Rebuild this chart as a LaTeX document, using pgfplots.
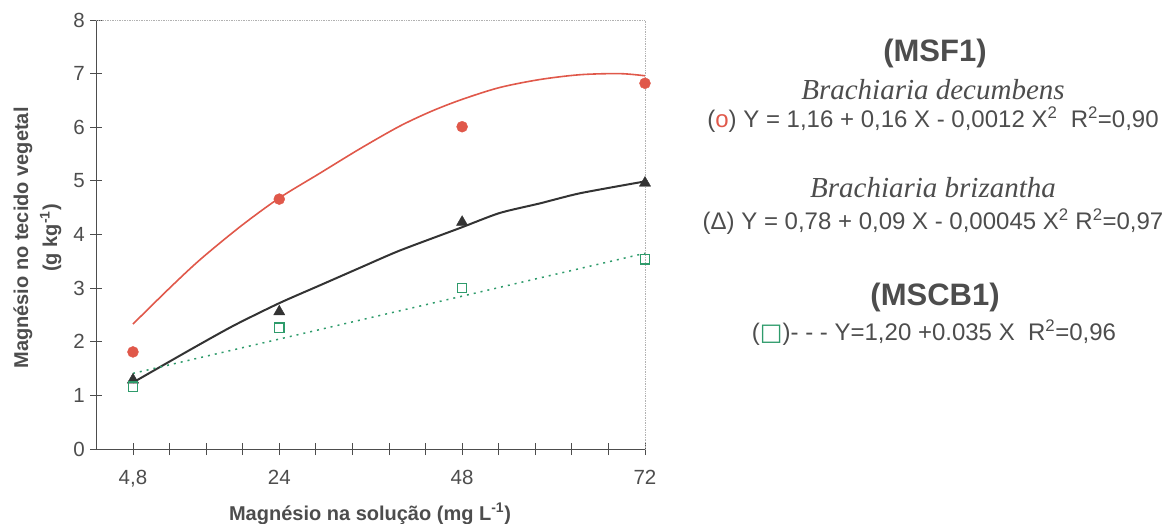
\documentclass[border=0pt]{standalone}
\usepackage{fontspec}
\setmainfont{Liberation Sans}
\newfontfamily\timesfont{Liberation Serif}
\newfontfamily\dejavu{DejaVu Sans}
\usepackage{pgfplots}
\pgfplotsset{compat=1.18}
\definecolor{txt}{HTML}{4D4D4D}
\definecolor{redc}{HTML}{E0584A}
\definecolor{blk}{HTML}{333333}
\definecolor{grn}{HTML}{2E9B6B}
\begin{document}
\begin{tikzpicture}
\useasboundingbox (0,0) rectangle (1170pt,523pt);
\begin{axis}[
  at={(96.4pt,74pt)}, anchor=south west,
  scale only axis, width=548.6pt, height=429pt,
  xmin=0, xmax=72, ymin=0, ymax=8,
  axis lines=left, axis line style={-, draw=txt, line width=1pt},
  tick align=center, major tick length=12pt,
  tick style={draw=txt, line width=0.8pt},
  xtick={4.8,9.6,14.4,19.2,24,28.8,33.6,38.4,43.2,48,52.8,57.6,62.4,67.2,72},
  xticklabels={{4,8},,,,24,,,,,48,,,,,72},
  ytick={0,1,2,3,4,5,6,7,8},
  /pgf/number format/assume math mode=true,
  tick label style={font=\fontsize{20.5}{24}\selectfont, text=txt},
  xticklabel style={yshift=-12pt},
  yticklabel style={xshift=-2pt},
  clip=false,
]
\draw[gray!60, densely dotted, line width=0.7pt] (rel axis cs:0,1) -- (rel axis cs:1,1) -- (rel axis cs:1,0);
% fitted curves
\addplot[redc, line width=1.6pt, smooth] coordinates {
(4.8,2.33) (9.6,3.0) (13.6,3.53) (18.9,4.15) (24,4.68) (29.3,5.14) (34.6,5.6) (39.8,6.02) (44,6.3) (48,6.52) (52.9,6.74) (58.2,6.89) (63.5,6.98) (68.7,7.0) (72,6.96)};
\addplot[blk, line width=2pt, smooth, tension=0.4] coordinates {
(4.8,1.24) (12.3,1.85) (18,2.3) (24,2.72) (29.3,3.05) (34.6,3.38) (39.8,3.7) (47.7,4.12) (52.9,4.40) (58.2,4.58) (63.5,4.77) (72,4.99)};
\addplot[grn, line width=1.5pt, dash pattern=on 2pt off 5pt] coordinates {(4.8,1.41) (72,3.65)};
% observed points
\addplot[only marks, mark=*, mark size=5.5pt, mark options={fill=redc, draw=redc}] coordinates {(4.8,1.81) (24,4.66) (48,6.01) (72,6.82)};
\addplot[only marks, mark=triangle*, mark size=6.5pt, mark options={fill=blk, draw=blk}] coordinates {(4.8,1.29) (24,2.56) (48,4.23) (72,4.96)};
\addplot[only marks, mark=square, mark size=4.7pt, mark options={draw=grn, line width=1.3pt}] coordinates {(4.8,1.16) (24,2.26) (48,3.0) (72,3.54)};
\end{axis}
\node[rotate=90, align=center, text=txt, font=\bfseries\fontsize{20}{29}\selectfont] at (37.5pt,285pt) {Magnésio no tecido vegetal\\(g kg\textsuperscript{-1})};
\node[text=txt, font=\bfseries\fontsize{20}{24}\selectfont] at (370pt,9pt) {Magnésio na solução (mg L\textsuperscript{-1})};
\node[text=txt, font=\bfseries\fontsize{31}{36}\selectfont] at (935pt,470pt) {(MSF1)};
\node[text=txt, font=\timesfont\itshape\fontsize{29}{34}\selectfont] at (933pt,433pt) {Brachiaria decumbens};
\node[text=txt, font=\fontsize{24}{28}\selectfont] at (933pt,403pt) {(\textcolor{redc}{o}) Y = 1,16 + 0,16 X - 0,0012 X\textsuperscript{2}\ \ R\textsuperscript{2}=0,90};
\node[text=txt, font=\timesfont\itshape\fontsize{29}{34}\selectfont] at (933pt,335pt) {Brachiaria brizantha};
\node[text=txt, font=\fontsize{24}{28}\selectfont] at (933pt,301pt) {(Δ) Y = 0,78 + 0,09 X - 0,00045 X\textsuperscript{2} R\textsuperscript{2}=0,97};
\node[text=txt, font=\bfseries\fontsize{31}{36}\selectfont] at (935pt,226pt) {(MSCB1)};
\node[text=txt, font=\fontsize{24}{28}\selectfont] at (934pt,190pt) {({\dejavu\textcolor{grn}{□}})- - - Y=1,20 +0.035 X\ \ R\textsuperscript{2}=0,96};
\end{tikzpicture}
\end{document}
